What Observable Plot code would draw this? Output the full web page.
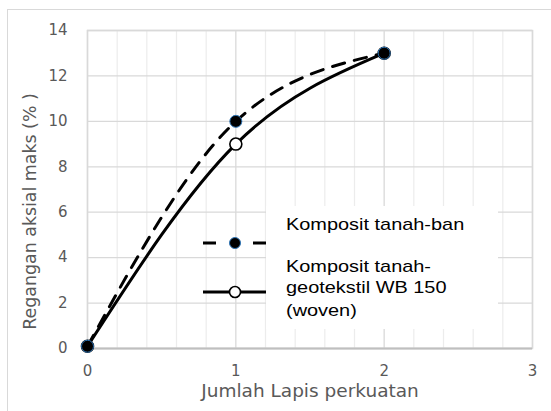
<!DOCTYPE html>
<html>
<head>
<meta charset="utf-8">
<script src="https://cdn.jsdelivr.net/npm/d3@7"></script>
<script src="https://cdn.jsdelivr.net/npm/@observablehq/plot@0.6"></script>
<style>
  html, body { margin: 0; padding: 0; background: #fff; }
  #wrap { position: relative; width: 551px; height: 411px; overflow: hidden; }
  #outer { position: absolute; left: 7px; top: 9px; width: 560px; height: 410px;
           border-left: 1.5px solid #d9d9d9; border-top: 1.5px solid #d9d9d9; }
  #legendBox { position: absolute; left: 266px; top: 206px; width: 232px; height: 123px; background: #fff; }
  .lt { position: absolute; font-family: "Liberation Sans", Arial, sans-serif; font-size: 16.6px; color: #000;
        transform: scaleX(1.2); transform-origin: left center; white-space: nowrap; line-height: 20px; }
  #samples { position: absolute; left: 0; top: 0; }
</style>
</head>
<body>
<div id="wrap">
  <div id="chart"></div>
  <div id="outer"></div>
  <div id="legendBox"></div>
  <svg id="samples" width="551" height="411"></svg>
  <div class="lt" id="l1" style="left:286px; top:215px;"></div>
  <div class="lt" id="l2" style="left:286px; top:257px;"></div>
  <div class="lt" id="l3" style="left:286px; top:278px;"></div>
  <div class="lt" id="l4" style="left:286px; top:301px;"></div>
</div>
<script>
// ---- data ----
const layers = [0, 1, 2];                       // Jumlah Lapis perkuatan
const tanahBan = [0.1, 10, 13];                 // Komposit tanah-ban
const tanahGeo = [0.1, 9, 13];                  // Komposit tanah-geotekstil WB 150 (woven)
const seriesNames = ["Komposit tanah-ban", "Komposit tanah-geotekstil WB 150 (woven)"];
const legendLines = [["Komposit tanah-ban"], ["Komposit tanah-", "geotekstil WB 150", "(woven)"]];
const xTicks = [0, 1, 2, 3];
const xMinorTicks = [0.2, 0.4, 0.6, 0.8, 1.2, 1.4, 1.6, 1.8, 2.2, 2.4, 2.6, 2.8];
const yTicks = [0, 2, 4, 6, 8, 10, 12, 14];
const xTitle = "Jumlah Lapis perkuatan";
const yTitle = "Regangan aksial maks (% )";

const banData = layers.map((x, i) => ({x, y: tanahBan[i]}));
const geoData = layers.map((x, i) => ({x, y: tanahGeo[i]}));

const chart = Plot.plot({
  width: 551,
  height: 411,
  marginLeft: 87,
  marginRight: 19,
  marginTop: 30,
  marginBottom: 63,
  x: {domain: [0, 3]},
  y: {domain: [0, 14]},
  style: {fontFamily: "DejaVu Sans, sans-serif", color: "#595959", background: "transparent", overflow: "visible"},
  marks: [
    Plot.gridX(xMinorTicks, {stroke: "#ececec", strokeOpacity: 1, strokeWidth: 1.2}),
    Plot.gridX(xTicks, {stroke: "#d9d9d9", strokeOpacity: 1, strokeWidth: 1.3}),
    Plot.gridY(yTicks, {stroke: "#d9d9d9", strokeOpacity: 1, strokeWidth: 1.3}),
    Plot.frame({stroke: "#d9d9d9", strokeWidth: 1.5}),
    Plot.ruleY([0], {stroke: "#bfbfbf", strokeWidth: 2}),
    Plot.axisX(xTicks, {tickSize: 0, tickPadding: 17, fontSize: 15, label: null, tickFormat: d => String(d)}),
    Plot.axisY(yTicks, {tickSize: 0, tickPadding: 20, fontSize: 15, label: null, tickFormat: d => String(d)}),
    Plot.text([xTitle], {frameAnchor: "bottom", dy: 48, fontSize: 18.5, fill: "#595959"}),
    Plot.text([yTitle], {frameAnchor: "left", textAnchor: "middle", rotate: -90, dx: -57, dy: 22, fontSize: 17.4, fill: "#595959"}),
    Plot.line(geoData, {x: "x", y: "y", curve: "monotone-x", stroke: "#000", strokeWidth: 3}),
    Plot.line(banData, {x: "x", y: "y", curve: "monotone-x", stroke: "#000", strokeWidth: 3, strokeDasharray: "12.5,10"}),
    Plot.dot(geoData, {x: "x", y: "y", r: 6, fill: "#fff", stroke: "#000", strokeWidth: 1.6}),
    Plot.dot(banData, {x: "x", y: "y", r: 6, fill: "#000", stroke: "#2e75b6", strokeWidth: 1})
  ]
});
document.getElementById("chart").appendChild(chart);

// ---- legend ----
document.getElementById("l1").textContent = legendLines[0][0];
document.getElementById("l2").textContent = legendLines[1][0];
document.getElementById("l3").textContent = legendLines[1][1];
document.getElementById("l4").textContent = legendLines[1][2];

const s = d3.select("#samples");
s.append("line").attr("x1", 203).attr("x2", 266).attr("y1", 243).attr("y2", 243)
  .attr("stroke", "#000").attr("stroke-width", 3).attr("stroke-dasharray", "13,37");
s.append("circle").attr("cx", 235).attr("cy", 243).attr("r", 5.5)
  .attr("fill", "#000").attr("stroke", "#2e75b6").attr("stroke-width", 1);
s.append("line").attr("x1", 203).attr("x2", 266).attr("y1", 292).attr("y2", 292)
  .attr("stroke", "#000").attr("stroke-width", 3);
s.append("circle").attr("cx", 235).attr("cy", 292).attr("r", 5.5)
  .attr("fill", "#fff").attr("stroke", "#000").attr("stroke-width", 1.6);
</script>
</body>
</html>
